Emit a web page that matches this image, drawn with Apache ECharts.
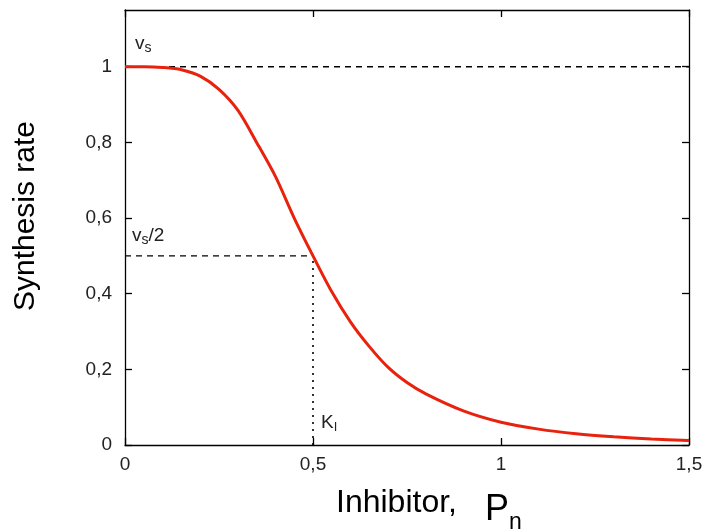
<!DOCTYPE html>
<html>
<head>
<meta charset="utf-8">
<script src="https://cdn.jsdelivr.net/npm/echarts@6/dist/echarts.min.js"></script>
<style>html,body{margin:0;padding:0;background:#fff}#main{width:706px;height:530px}</style>
</head>
<body>
<div id="main"></div>
<script>
// curve
var inhibitor = [0, 0.05, 0.1, 0.15, 0.2, 0.25, 0.3, 0.35, 0.4, 0.45, 0.5, 0.55, 0.6, 0.65, 0.7, 0.75, 0.8, 0.9, 1.0, 1.1, 1.2, 1.3, 1.4, 1.5];
var rate = [1.0, 1.0, 0.998, 0.992, 0.975, 0.94, 0.885, 0.8, 0.71, 0.6, 0.5, 0.405, 0.325, 0.26, 0.205, 0.165, 0.135, 0.09, 0.06, 0.042, 0.03, 0.022, 0.016, 0.012];
var xTicks = [0, 0.5, 1, 1.5];
var yTicks = [0, 0.2, 0.4, 0.6, 0.8, 1];
var vs = 1, Ki = 0.5;

var curve = inhibitor.map(function (x, i) { return [x, rate[i]]; });
var fmt = function (v) { return String(+v.toFixed(2)).replace('.', ','); };

var chart = echarts.init(document.getElementById('main'));

function axis(pos, max, ticks, withLabels) {
    return {
        type: 'value', min: 0, max: max, position: pos,
        axisLine: { show: true, onZero: false, lineStyle: { color: '#000', width: 1.3 } },
        axisTick: { show: true, inside: true, length: 7, customValues: ticks, lineStyle: { color: '#000', width: 1.3 } },
        splitLine: { show: false },
        axisLabel: withLabels ? {
            show: true, customValues: ticks, formatter: fmt, color: '#222',
            fontSize: 19, fontFamily: 'Liberation Sans', margin: (pos == 'left' ? 13 : 10)
        } : { show: false }
    };
}

var sub = function (big, small, drop) {
    return {
        v: { fontSize: big, fontFamily: 'Liberation Sans', fill: '#222' },
        s: { fontSize: small, fontFamily: 'Liberation Sans', fill: '#222', padding: [drop, 0, 0, 0] }
    };
};

var option = {
    animation: false,
    backgroundColor: '#fff',
    grid: { left: 125, right: 17, top: 10, bottom: 85 },
    xAxis: [axis('bottom', 1.5, xTicks, true), axis('top', 1.5, xTicks, false)],
    yAxis: [axis('left', 1.15, yTicks, true), axis('right', 1.15, yTicks, false)],
    series: [
        {
            type: 'line', data: [[0, vs], [1.5, vs]], symbol: 'none', silent: true,
            lineStyle: { color: '#000', width: 1.3, type: [6, 5] }, z: 1
        },
        {
            type: 'line', data: [[0, vs / 2], [Ki, vs / 2]], symbol: 'none', silent: true,
            lineStyle: { color: '#000', width: 1.3, type: [6, 5] }, z: 1
        },
        {
            type: 'line', data: [[Ki, 0], [Ki, vs / 2]], symbol: 'none', silent: true,
            lineStyle: { color: '#000', width: 1.6, type: [2, 5] }, z: 1
        },
        {
            type: 'line', data: curve, symbol: 'none', smooth: 0.3,
            lineStyle: { color: '#e8220c', width: 3 }, z: 3
        }
    ],
    graphic: [
        { type: 'text', left: 135, top: 34, style: { rich: sub(19, 14, 10), text: '{v|v}{s|s}' } },
        { type: 'text', left: 132, top: 226, style: { rich: sub(19, 14, 10), text: '{v|v}{s|s}{v|/2}' } },
        { type: 'text', left: 321, top: 413, style: { rich: sub(19, 13, 9), text: '{v|K}{s|I}' } },
        {
            type: 'text', x: 11, y: 216, rotation: Math.PI / 2,
            style: { text: 'Synthesis rate', fontSize: 30, fontFamily: 'Liberation Sans', fill: '#000', align: 'center', verticalAlign: 'top' }
        },
        {
            type: 'text', left: 336, top: 487,
            style: { text: 'Inhibitor,', fontSize: 32, fontFamily: 'Liberation Sans', fill: '#000' }
        },
        {
            type: 'text', left: 485, top: 492,
            style: { rich: { p: { fontSize: 36, fontFamily: 'Liberation Sans', fill: '#000' }, n: { fontSize: 23, fontFamily: 'Liberation Sans', fill: '#000', padding: [26, 0, 0, 0] } },
                text: '{p|P}{n|n}' }
        }
    ]
};

chart.setOption(option);
</script>
</body>
</html>
